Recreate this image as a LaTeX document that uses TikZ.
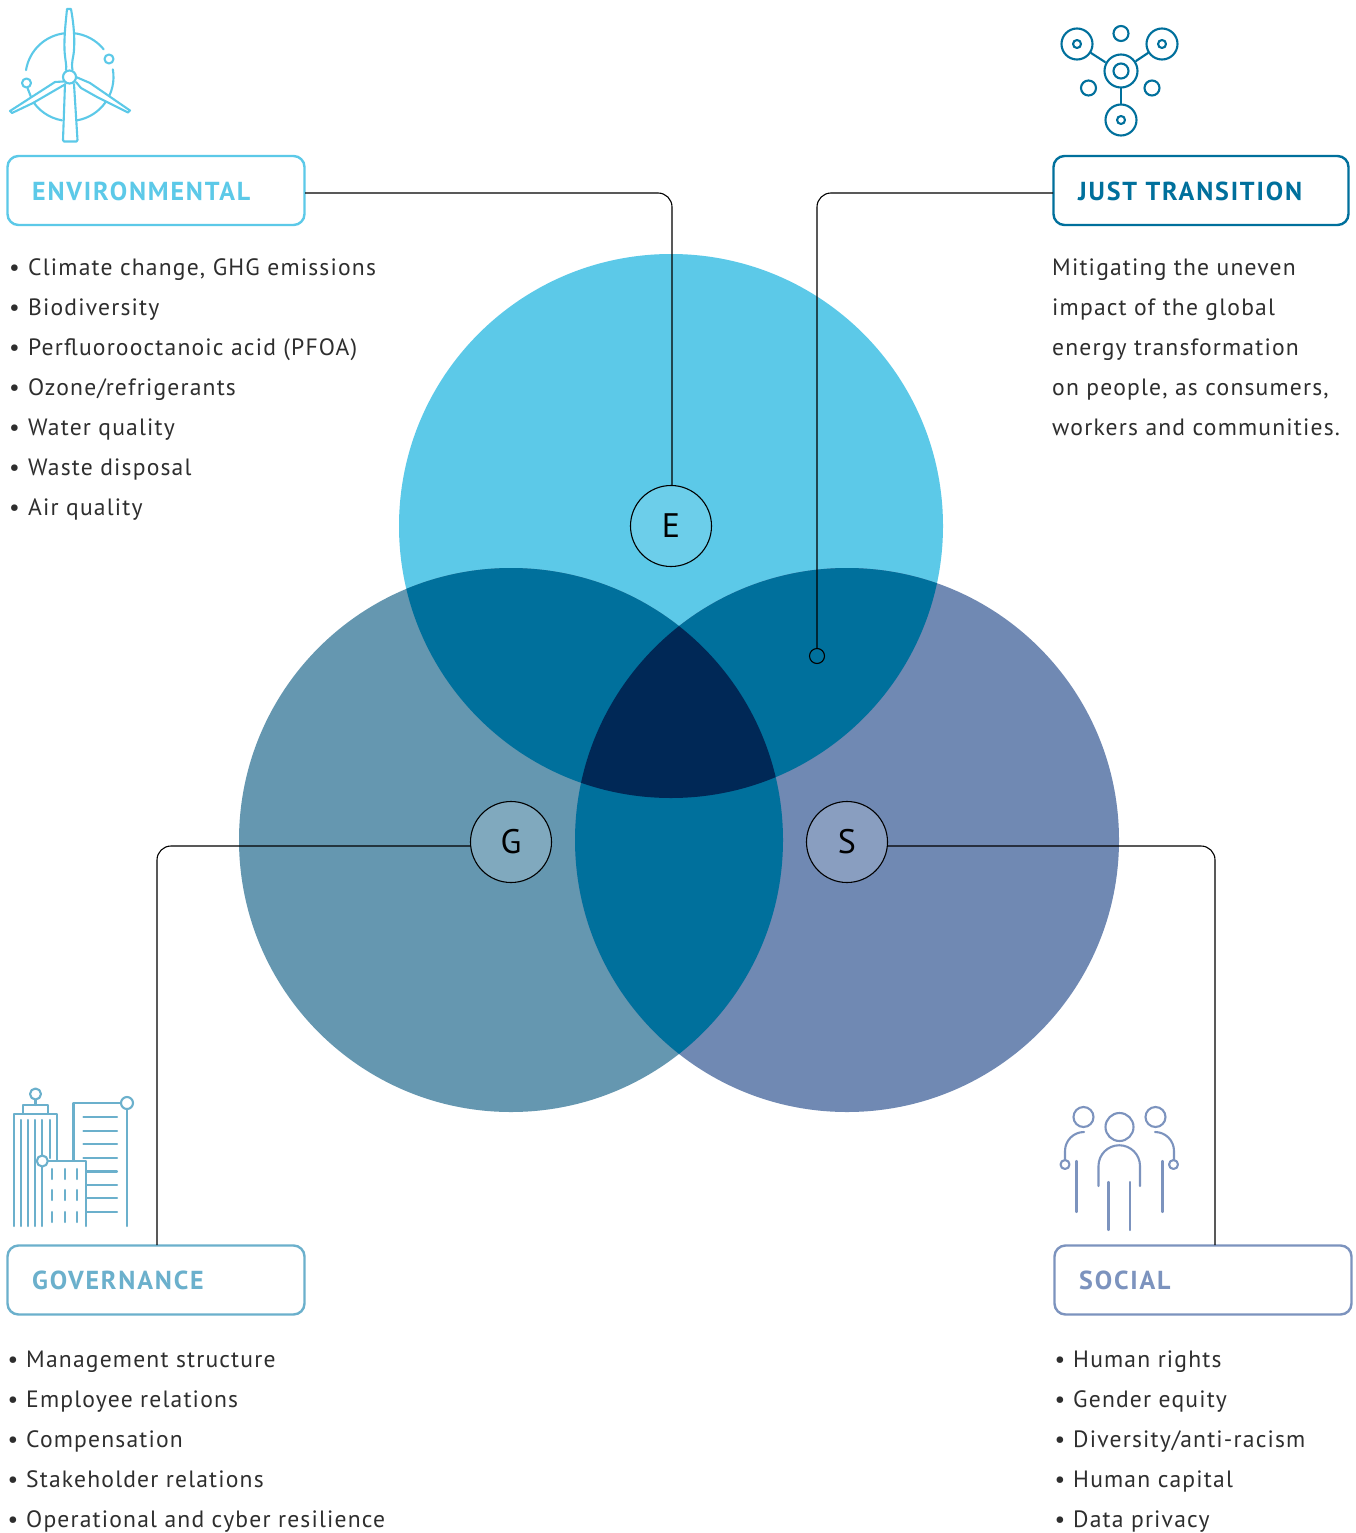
\documentclass[tikz,border=0pt]{standalone}
\usepackage{fontspec}
\setmainfont[LetterSpace=5]{PT Sans}
\newfontfamily\headfont[LetterSpace=7]{PT Sans}
\definecolor{cE}{HTML}{5CC9E8}
\definecolor{cG}{HTML}{6597B0}
\definecolor{cS}{HTML}{7089B3}
\definecolor{cJ}{HTML}{00709C}
\definecolor{cD}{HTML}{002856}
\definecolor{bE}{HTML}{5CC9E8}
\definecolor{bG}{HTML}{6BB0CC}
\definecolor{bS}{HTML}{7C93BE}
\definecolor{txt}{HTML}{2E2E2E}
\tikzset{
 x=1pt,y=-1pt,
 hbox/.style={draw=#1,fill=white,line width=2.4pt,rounded corners=11pt,minimum width=297pt,minimum height=69pt,inner sep=0pt},
 htext/.style={text=#1,anchor=base west,yshift=-8.7pt,inner sep=0pt,font=\headfont\fontsize{26}{26}\selectfont\bfseries},
 body/.style={anchor=base west,yshift=-8pt,inner sep=0pt,text=txt,font=\fontsize{23.6}{23.6}\selectfont},
 hub/.style={circle,draw=black,line width=1.1pt,minimum size=81pt,inner sep=0pt,font=\fontsize{34}{34}\selectfont,text=black},
 lead/.style={draw=black,line width=1.1pt,rounded corners=14pt},
 ico/.style={line width=2.1pt,draw=#1,line cap=round,line join=round},
}
\begin{document}
\begin{tikzpicture}
\useasboundingbox (0,0) rectangle (1355,1533);
\fill[white] (0,0) rectangle (1355,1533);
% venn
\fill[cE] (671,526) circle (272);
\fill[cG] (511,840) circle (272);
\fill[cS] (847,840) circle (272);
\begin{scope}\clip (671,526) circle (272); \fill[cJ] (511,840) circle (272); \fill[cJ] (847,840) circle (272);\end{scope}
\begin{scope}\clip (511,840) circle (272); \fill[cJ] (847,840) circle (272);\end{scope}
\begin{scope}\clip (671,526) circle (272); \clip (511,840) circle (272); \fill[cD] (847,840) circle (272);\end{scope}
% hubs
\node[hub,fill=white,fill opacity=.1,text opacity=1] (E) at (671,526) {E};
\node[hub,fill=white,fill opacity=.18,text opacity=1] (G) at (511,842) {G};
\node[hub,fill=white,fill opacity=.18,text opacity=1] (S) at (847,842) {S};
\node[circle,draw=black,line width=1.1pt,minimum size=15pt,inner sep=0pt] (jt) at (817,656) {};
% boxes
\node[hbox=bE] (envbox) at (156,190.5) {};
\node[hbox=cJ,minimum width=295pt] (jtbox) at (1201,190.5) {};
\node[hbox=bG] (govbox) at (156,1280) {};
\node[hbox=bS] (socbox) at (1203,1280) {};
\node[htext=bE] (envt) at (32,192) {ENVIRONMENTAL};
\node[htext=cJ] (jtt) at (1078,192) {JUST TRANSITION};
\node[htext=bG] (govt) at (32,1281) {GOVERNANCE};
\node[htext=bS] (soct) at (1079,1281) {SOCIAL};
% leaders
\coordinate (envout) at (305,193);
\coordinate (ehub) at (672,485.5);
\coordinate (jtout) at (1053,193);
\coordinate (govout) at (157,1245);
\coordinate (socout) at (1215,1245);
\coordinate (ghub) at (470,846);
\coordinate (shub) at (888,846);
\draw[lead] (envout) -| (ehub);
\draw[lead] (jtout) -| (jt.north);
\draw[lead] (govout) |- (ghub);
\draw[lead] (socout) |- (shub);
% lists
\foreach \n/\y/\t in {e1/267/{Climate change, GHG emissions},e2/307/Biodiversity,e3/347/{Perfluorooctanoic acid (PFOA)},e4/387/Ozone\slash refrigerants,e5/427/Water quality,e6/467/Waste disposal,e7/507/Air quality}{
  \node[body] (\n) at (9,\y) {•};
  \node[body] (\n t) at (28,\y) {\t};
}
\foreach \n/\y/\t in {j1/267/Mitigating the uneven,j2/307/impact of the global,j3/347/energy transformation,j4/387/{on people, as consumers,},j5/427/workers and communities.}{
  \node[body] (\n) at (1052,\y) {\t};
}
\foreach \n/\y/\t in {g1/1359/Management structure,g2/1399/Employee relations,g3/1439/Compensation,g4/1479/Stakeholder relations,g5/1519/Operational and cyber resilience}{
  \node[body] (\n) at (7.5,\y) {•};
  \node[body] (\n t) at (26,\y) {\t};
}
\foreach \n/\y/\t in {s1/1359/Human rights,s2/1399/Gender equity,s3/1439/Diversity\slash anti-racism,s4/1479/Human capital,s5/1519/Data privacy}{
  \node[body] (\n) at (1054.5,\y) {•};
  \node[body] (\n t) at (1073,\y) {\t};
}
% wind icon
\begin{scope}[ico=bE]
\draw (69.5,77) ++(-171:44) arc[start angle=-171,end angle=-95,radius=44];
\draw (69.5,77) ++(-85:44) arc[start angle=-85,end angle=-39,radius=44];
\draw (69.5,77) ++(-10:44) arc[start angle=-10,end angle=80,radius=44];
\draw (69.5,77) ++(100:44) arc[start angle=100,end angle=150,radius=44];
\draw (109,59) circle (4.5);
\draw (26.5,83) circle (4.5);
\draw (27.5,88) -- (31,97);
\draw[fill=white] (66,70) .. controls (67,66) and (65,60) .. (64.5,50) .. controls (64,35) and (66,20) .. (67,9) -- (71,9) .. controls (73,20) and (75,35) .. (74,50) .. controls (73.5,58) and (71,62) .. (72.5,70);
\draw[fill=white] (63.5,81.5) -- (55,82) -- (10,111) -- (12,113) -- (33,103) -- (64,85);
\draw[fill=white] (76,77) -- (90,83) -- (130,110.5) -- (128,112.5) -- (97,97) -- (81,88) -- (76,82);
\draw[fill=white] (65,84) -- (63,140) -- (64,141.5) -- (76.5,141.5) -- (77.5,140) -- (74,84);
\draw[fill=white] (69.5,77) circle (6.5);
\end{scope}
% network icon
\begin{scope}[ico=cJ]
\draw (1121,71) circle (16.5); \draw (1121,71) circle (7.5);
\draw (1077,44) circle (15.5); \draw (1077,44) circle (4);
\draw (1162,44) circle (15.5); \draw (1162,44) circle (4);
\draw (1121,120) circle (15.5); \draw (1121,120) circle (4);
\draw (1121,33.5) circle (7.5);
\draw (1088.5,88) circle (7.5);
\draw (1152,88) circle (7.5);
\draw (1091,53) -- (1105,62);
\draw (1148,53) -- (1136,61);
\draw (1121,88) -- (1121,104);
\end{scope}
% building icon
\begin{scope}[ico=bG]
\draw (35.5,1094) circle (5.5);
\draw (35.5,1100) -- (35.5,1105);
\draw (23,1113) -- (23,1105) -- (48,1105) -- (48,1113);
\draw (14,1226) -- (14,1114) -- (57,1114) -- (57,1160);
\foreach \x in {21,28,35}{\draw (\x,1120) -- (\x,1226);}
\draw (42.3,1120) -- (42.3,1155);
\draw (50,1120) -- (50,1158);
\draw (73.5,1160) -- (73.5,1103) -- (121,1103);
\draw (127,1103) circle (6);
\draw (127,1109) -- (127,1226);
\foreach \y in {1117,1131,1144,1158}{\draw (83.5,\y) -- (117,\y);}
\foreach \y in {1171.5,1185,1198,1212}{\draw (87,\y) -- (117,\y);}
\draw (42.3,1161) circle (5.5);
\draw (42.3,1167) -- (42.3,1226);
\draw (48,1161) -- (86,1161) -- (86,1226);
\foreach \x in {52.3,64.7,76.7}{\foreach \y in {1169,1190,1212}{\draw (\x,\y) -- (\x,\y+10);}}
\end{scope}
% people icon
\begin{scope}[ico=bS]
\draw (1119.5,1127) circle (14);
\draw (1083.5,1117) circle (10);
\draw (1155.5,1117) circle (10);
\draw (1098.5,1186) -- (1098.5,1166) arc[start angle=-180,end angle=0,radius=20.75] -- (1140,1186);
\draw (1108.5,1182) -- (1108.5,1230);
\draw (1130,1182) -- (1130,1230);
\draw (1084,1132) arc[start angle=-90,end angle=-180,radius=19] -- (1065,1160);
\draw (1155,1132) arc[start angle=-90,end angle=0,radius=19] -- (1174,1160);
\draw (1065,1164.5) circle (4.5);
\draw (1173.5,1164.5) circle (4.5);
\draw (1076.5,1161) -- (1076.5,1212);
\draw (1162.5,1161) -- (1162.5,1212);
\end{scope}
\end{tikzpicture}
\end{document}
